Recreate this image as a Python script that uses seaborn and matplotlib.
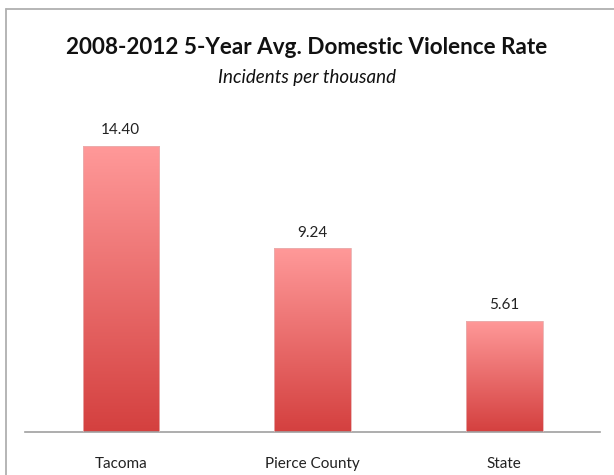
import matplotlib
matplotlib.use("Agg")
import matplotlib.pyplot as plt
import numpy as np
import pandas as pd
import seaborn as sns
from matplotlib.colors import LinearSegmentedColormap
from matplotlib.patches import Rectangle

# Five-year average domestic violence rates (incidents per thousand)
areas = ["Tacoma", "Pierce County", "State"]
rates = [14.40, 9.24, 5.61]
value_labels = ["14.40", "9.24", "5.61"]

title = "2008-2012 5-Year Avg. Domestic Violence Rate"
subtitle = "Incidents per thousand"

df = pd.DataFrame({"area": areas, "rate": rates})

sns.set_theme(style="white")
plt.rcParams["font.family"] = ["Lato", "DejaVu Sans"]

fig = plt.figure(figsize=(6.14, 4.75), dpi=100)
ax = fig.add_axes([25 / 614, 43 / 475, 575 / 614, 332 / 475])

sns.barplot(data=df, x="area", y="rate", color="#f08080", width=0.4,
            saturation=1, ax=ax)

# Vertical gradient fill on each bar: light pink at the top, deep red at the base
grad = LinearSegmentedColormap.from_list("bar", ["#d4403f", "#ff9999"])
g = np.linspace(0, 1, 256).reshape(-1, 1)
for patch in ax.patches:
    x0, y0 = patch.get_x(), patch.get_y()
    w, h = patch.get_width(), patch.get_height()
    patch.set_facecolor("none")
    patch.set_edgecolor("none")
    im = ax.imshow(g, cmap=grad, aspect="auto", origin="lower",
                   extent=[x0, x0 + w, y0, y0 + h], zorder=2)
    clip = Rectangle((x0, y0), w, h, transform=ax.transData)
    im.set_clip_path(clip)
    ax.add_patch(Rectangle((x0, y0), w, h, facecolor="none",
                           edgecolor="#e8b0b0", linewidth=0.6, zorder=3))

for i, (v, lab) in enumerate(zip(rates, value_labels)):
    ax.text(i, v + 0.45, lab, ha="center", va="bottom", fontsize=11,
            color="#222222")

ax.set_xlim(-0.5, 2.5)
ax.set_ylim(0, 332 / 19.86)
ax.set_xlabel("")
ax.set_ylabel("")
ax.set_yticks([])
ax.tick_params(axis="x", length=0, pad=18, labelsize=11, labelcolor="#222222")
for side in ["top", "right", "left"]:
    ax.spines[side].set_visible(False)
ax.spines["bottom"].set_color("#a0a0a0")
ax.spines["bottom"].set_linewidth(1.2)

fig.text(0.5, 1 - 47 / 475, title, ha="center", va="center",
         fontsize=16.2, fontweight="bold", color="#111111")
fig.text(0.5, 1 - 77 / 475, subtitle, ha="center", va="center",
         fontsize=13.5, style="italic", color="#111111")

# Outer frame along the left and top edges
fig.add_artist(plt.Line2D([6 / 614, 6 / 614], [0, 1 - 9 / 475],
                          transform=fig.transFigure, color="#b0b0b0", lw=1.3))
fig.add_artist(plt.Line2D([6 / 614, 1], [1 - 9 / 475, 1 - 9 / 475],
                          transform=fig.transFigure, color="#b0b0b0", lw=1.3))

fig.savefig("out.png", dpi=100, facecolor="white")
